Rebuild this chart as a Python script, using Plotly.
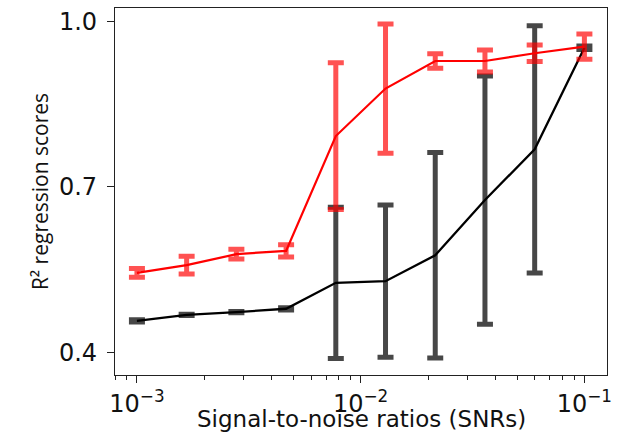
import plotly.graph_objects as go

snr = [0.001, 0.001668, 0.002783, 0.004642, 0.007743, 0.012915, 0.021544, 0.035938, 0.059948, 0.1]

red_mean = [0.544, 0.558, 0.578, 0.584, 0.792, 0.878, 0.928, 0.928, 0.942, 0.954]
red_err = [0.008, 0.016, 0.009, 0.011, 0.133, 0.117, 0.013, 0.020, 0.015, 0.023]

black_mean = [0.457, 0.468, 0.473, 0.479, 0.526, 0.529, 0.576, 0.676, 0.768, 0.952]
black_err = [0.002, 0.001, 0.001, 0.002, 0.137, 0.138, 0.186, 0.225, 0.224, 0.003]

y_ticks = [0.4, 0.7, 1.0]
y_ticktext = ["0.4", "0.7", "1.0"]
x_ticks = [0.001, 0.01, 0.1]
x_ticktext = ["10<sup>\u22123</sup>", "10<sup>\u22122</sup>", "10<sup>\u22121</sup>"]
x_minor_ticks = [0.0008, 0.0009,
                 0.002, 0.003, 0.004, 0.005, 0.006, 0.007, 0.008, 0.009,
                 0.02, 0.03, 0.04, 0.05, 0.06, 0.07, 0.08, 0.09]
x_title = "Signal-to-noise ratios (SNRs)"
y_title = "R\u00b2 regression scores"

x_range = [-3.098, -0.899]
y_range = [0.359, 1.024]

fig = go.Figure()
fig.add_trace(go.Scatter(
    x=snr, y=black_mean, mode="lines",
    line=dict(color="black", width=2.3),
    error_y=dict(type="data", array=black_err, color="rgba(0,0,0,0.72)", thickness=5, width=8),
    showlegend=False,
))
fig.add_trace(go.Scatter(
    x=snr, y=red_mean, mode="lines",
    line=dict(color="#ff0000", width=2.2),
    error_y=dict(type="data", array=red_err, color="rgba(255,0,0,0.68)", thickness=5, width=8),
    showlegend=False,
))
# invisible trace carrying the minor-tick axis
fig.add_trace(go.Scatter(
    x=snr, y=red_mean, mode="markers", marker=dict(opacity=0),
    xaxis="x2", yaxis="y", hoverinfo="skip", showlegend=False,
))

tick_font = dict(family="DejaVu Sans", size=24, color="#111")

fig.update_layout(
    width=623, height=434,
    margin=dict(l=115, r=16, t=8, b=59),
    paper_bgcolor="white", plot_bgcolor="white",
    xaxis=dict(
        type="log", range=x_range,
        tickvals=x_ticks, ticktext=x_ticktext,
        showline=True, linecolor="#222", linewidth=1.3, mirror=True,
        showgrid=False, zeroline=False,
        ticks="outside", ticklen=7, tickwidth=1.2, tickcolor="#222",
        tickfont=tick_font, automargin=False,
    ),
    xaxis2=dict(
        type="log", range=x_range, overlaying="x", side="bottom", anchor="y",
        tickvals=x_minor_ticks, showticklabels=False,
        ticks="outside", ticklen=4, tickwidth=1, tickcolor="#222",
        showline=False, showgrid=False, zeroline=False, automargin=False,
    ),
    yaxis=dict(
        range=y_range,
        tickvals=y_ticks, ticktext=y_ticktext,
        showline=True, linecolor="#222", linewidth=1.3, mirror=True,
        showgrid=False, zeroline=False,
        ticks="outside", ticklen=7, tickwidth=1.2, tickcolor="#222",
        tickfont=tick_font, automargin=False, ticklabelstandoff=5,
        title=dict(text=y_title,
                   font=dict(family="Open Sans", size=21, color="#111"), standoff=4),
    ),
    annotations=[dict(
        text=x_title, xref="paper", yref="paper", x=0.5, y=0,
        xanchor="center", yanchor="bottom", yshift=-59, showarrow=False,
        font=dict(family="DejaVu Sans", size=23, color="#111"),
    )],
)

fig.write_html(
    "out.html",
    config={"displayModeBar": False},
    post_script="document.body.style.margin='0';document.body.style.overflow='hidden';",
)
